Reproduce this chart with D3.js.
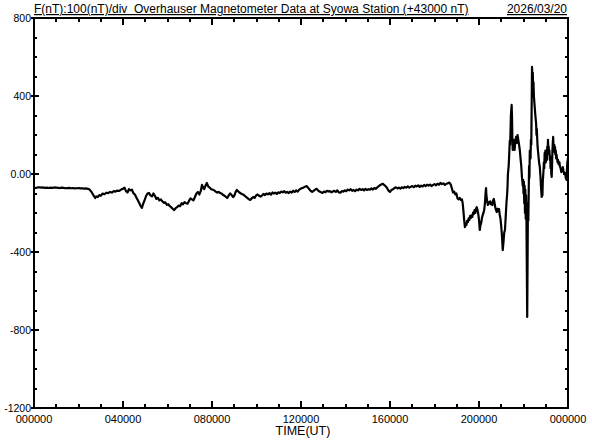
<!DOCTYPE html>
<html><head><meta charset="utf-8">
<script src="https://cdn.jsdelivr.net/npm/d3@7"></script>
<style>
html,body{margin:0;padding:0;background:#fff;}
svg{display:block;}
text{font-family:"Liberation Sans",Arial,sans-serif;fill:#000;white-space:pre;}
</style></head>
<body>
<script>
// ---- data ----
const titleText = "F(nT):100(nT)/div  Overhauser Magnetometer Data at Syowa Station (+43000 nT)";
const dateText = "2026/03/20";
const xAxisTitle = "TIME(UT)";
const xTickValues = [0, 240, 480, 720, 960, 1200, 1440];           // minutes
const xTickLabels = ["000000","040000","080000","120000","160000","200000","000000"];
const yTickValues = [800, 400, 0, -400, -800, -1200];
const yTickLabels = ["800","400","0.00","-400","-800","-1200"];
// F deviation from 43000 nT: [minute of day UT, nT]
const fSeries = [
[0,-72],[5,-71],[10,-69],[15,-68],[20,-70],[25,-69],[30,-71],[35,-70],[40,-72],[45,-70],
[50,-71],[55,-69],[60,-70],[65,-71],[70,-72],[75,-70],[80,-71],[85,-73],[90,-72],[95,-71],
[100,-73],[105,-72],[110,-74],[115,-73],[120,-72],[125,-74],[130,-73],[135,-75],[140,-74],[145,-76],
[150,-80],[155,-92],[160,-108],[165,-123],[168,-115],[172,-118],[176,-108],[180,-112],[185,-100],[190,-104],
[195,-96],[200,-98],[205,-92],[210,-95],[215,-88],[220,-90],[225,-85],[230,-87],[235,-80],[240,-76],
[244,-70],[248,-88],[252,-95],[256,-78],[260,-84],[264,-80],[268,-98],[272,-105],[276,-120],[280,-135],
[284,-150],[288,-165],[291,-174],[294,-155],[297,-140],[300,-125],[303,-110],[306,-100],[310,-97],[314,-110],
[318,-115],[322,-100],[326,-112],[330,-128],[334,-122],[338,-135],[342,-130],[346,-140],[350,-148],[354,-145],
[358,-158],[362,-155],[366,-165],[370,-170],[374,-178],[378,-185],[382,-175],[386,-170],[390,-162],[394,-165],
[398,-150],[402,-155],[406,-144],[410,-150],[414,-152],[418,-138],[422,-125],[426,-130],[430,-135],[434,-118],
[438,-100],[442,-92],[446,-105],[450,-85],[453,-56],[456,-70],[459,-78],[462,-62],[466,-46],[470,-65],
[474,-70],[478,-78],[482,-80],[486,-84],[490,-90],[494,-95],[498,-92],[502,-98],[506,-100],[510,-108],
[514,-112],[518,-118],[521,-123],[525,-110],[529,-100],[533,-108],[537,-118],[540,-112],[544,-90],[547,-82],
[550,-88],[554,-95],[558,-100],[562,-104],[566,-108],[570,-115],[575,-122],[580,-130],[583,-133],[587,-125],
[591,-118],[595,-122],[599,-110],[603,-105],[607,-112],[611,-116],[615,-110],[619,-102],[623,-108],[627,-100],
[631,-104],[635,-98],[639,-106],[643,-95],[647,-100],[651,-96],[655,-102],[659,-94],[663,-98],[667,-90],
[671,-94],[675,-88],[679,-96],[683,-92],[687,-98],[691,-90],[695,-95],[699,-86],[703,-92],[707,-84],
[711,-90],[715,-80],[719,-76],[723,-72],[727,-70],[731,-65],[735,-62],[739,-70],[743,-80],[747,-88],
[750,-92],[754,-86],[758,-80],[762,-76],[766,-84],[770,-90],[774,-94],[778,-97],[782,-90],[786,-94],
[790,-86],[794,-90],[798,-88],[802,-94],[806,-90],[810,-86],[814,-92],[818,-84],[822,-94],[826,-96],
[830,-88],[834,-90],[838,-84],[842,-88],[846,-80],[850,-84],[854,-78],[858,-86],[862,-82],[866,-88],
[870,-80],[874,-84],[878,-76],[882,-82],[886,-78],[890,-84],[894,-76],[898,-82],[902,-78],[906,-80],
[910,-74],[914,-80],[918,-72],[922,-76],[926,-68],[930,-62],[934,-56],[938,-52],[941,-50],[944,-56],
[948,-62],[952,-72],[956,-85],[960,-92],[964,-82],[968,-78],[972,-72],[976,-68],[980,-74],[984,-70],
[988,-75],[992,-68],[996,-72],[1000,-66],[1004,-70],[1008,-64],[1012,-70],[1016,-66],[1020,-62],[1024,-68],
[1028,-60],[1032,-64],[1036,-58],[1040,-66],[1044,-60],[1048,-64],[1052,-56],[1056,-62],[1060,-55],[1064,-60],
[1068,-54],[1072,-62],[1076,-56],[1080,-52],[1084,-58],[1088,-50],[1092,-55],[1096,-46],[1100,-52],[1104,-48],
[1108,-56],[1112,-50],[1116,-48],[1120,-44],[1124,-55],[1127,-75],[1130,-95],[1133,-90],[1136,-105],[1139,-100],
[1142,-125],[1145,-130],[1148,-122],[1151,-133],[1154,-130],[1156,-150],[1158,-190],[1160,-235],[1162,-272],[1164,-255],
[1166,-262],[1168,-240],[1170,-246],[1172,-228],[1174,-236],[1176,-215],[1178,-225],[1180,-212],[1182,-220],[1184,-198],
[1186,-205],[1188,-185],[1190,-200],[1192,-178],[1194,-170],[1196,-185],[1198,-205],[1200,-235],[1202,-287],[1204,-262],
[1206,-250],[1208,-225],[1210,-210],[1212,-200],[1214,-185],[1216,-150],[1218,-90],[1219,-72],[1220,-110],[1222,-140],
[1224,-159],[1226,-145],[1228,-150],[1230,-140],[1232,-155],[1234,-148],[1236,-160],[1238,-135],[1240,-128],[1242,-150],
[1244,-172],[1246,-185],[1248,-195],[1250,-178],[1252,-190],[1254,-180],[1256,-210],[1258,-230],[1260,-270],[1262,-320],
[1264,-390],[1266,-350],[1268,-300],[1270,-287],[1272,-220],[1274,-150],[1276,-100],[1277,-60],[1278,0],[1280,40],
[1281,80],[1283,170],[1284,150],[1285,220],[1286,300],[1288,354],[1289,300],[1290,180],[1291,123],[1293,175],
[1294,150],[1296,123],[1298,170],[1300,190],[1302,160],[1304,200],[1306,175],[1308,150],[1310,123],[1312,80],
[1314,40],[1316,-20],[1318,-60],[1319,-30],[1320,-100],[1321,-40],[1322,-150],[1323,-60],[1324,-200],[1325,-80],
[1326,-230],[1327,-110],[1328,-250],[1329,-492],[1330,-733],[1331,-450],[1332,-150],[1333,-240],[1334,-100],[1335,40],
[1336,-20],[1337,120],[1339,80],[1340,175],[1341,150],[1342,350],[1343,549],[1344,480],[1345,520],[1346,440],
[1347,470],[1348,400],[1350,350],[1352,300],[1354,260],[1355,200],[1356,230],[1357,180],[1358,140],[1360,100],
[1362,60],[1364,35],[1366,-20],[1367,-60],[1369,-118],[1370,-90],[1371,-110],[1372,-40],[1374,20],[1375,60],
[1376,30],[1377,108],[1378,80],[1379,120],[1380,60],[1382,90],[1383,72],[1384,140],[1385,110],[1386,175],
[1387,130],[1388,140],[1389,100],[1390,120],[1391,72],[1392,90],[1393,30],[1394,50],[1395,0],[1396,-15],
[1397,40],[1398,120],[1399,160],[1400,190],[1401,140],[1402,120],[1403,150],[1404,110],[1405,138],[1406,100],
[1407,120],[1408,80],[1409,100],[1410,87],[1412,60],[1413,72],[1415,50],[1417,60],[1418,40],[1420,30],
[1422,10],[1424,20],[1426,35],[1428,15],[1430,0],[1432,5],[1434,-20],[1436,-30],[1437,10],[1438,55],[1440,80]
];

// ---- layout ----
const W = 592, H = 440;
const L = 34, R = 568, T = 18, B = 408;
const x = d3.scaleLinear().domain([0, 1440]).range([L, R]);
const y = d3.scaleLinear().domain([-1200, 800]).range([B, T]);

const svg = d3.select("body").append("svg").attr("width", W).attr("height", H);
svg.append("rect").attr("width", W).attr("height", H).attr("fill", "#fff");

// trace
svg.append("path").datum(fSeries)
  .attr("fill", "none").attr("stroke", "#000").attr("stroke-width", 2.2)
  .attr("stroke-linejoin", "round")
  .attr("d", d3.line().x(d => x(d[0])).y(d => y(d[1])));

// frame
const g = svg.append("g").attr("stroke", "#000").attr("shape-rendering", "crispEdges");
g.append("rect").attr("x", L).attr("y", T).attr("width", R - L).attr("height", B - T)
  .attr("fill", "none").attr("stroke-width", 2);

// x ticks (inward, top & bottom)
d3.range(0, 1441, 60).forEach(t => {
  const major = t % 240 === 0;
  const len = major ? 7 : 4;
  g.append("line").attr("x1", x(t)).attr("x2", x(t)).attr("y1", B).attr("y2", B - len).attr("stroke-width", 2);
  g.append("line").attr("x1", x(t)).attr("x2", x(t)).attr("y1", T).attr("y2", T + len).attr("stroke-width", 2);
});
// y ticks (inward, left & right)
d3.range(-1200, 801, 100).forEach(v => {
  const major = v % 400 === 0;
  g.append("line").attr("x1", major ? L - 3 : L).attr("x2", L + (major ? 5 : 3))
    .attr("y1", y(v)).attr("y2", y(v)).attr("stroke-width", 2);
  g.append("line").attr("x1", R).attr("x2", R - (major ? 5 : 3))
    .attr("y1", y(v)).attr("y2", y(v)).attr("stroke-width", 2);
});

// y labels
yTickValues.forEach((v, i) => {
  svg.append("text").attr("x", L - 3).attr("y", y(v) + 4)
    .attr("text-anchor", "end").attr("font-size", 10.5).text(yTickLabels[i]);
});
// x labels
xTickValues.forEach((t, i) => {
  svg.append("text").attr("x", x(t)).attr("y", 423)
    .attr("text-anchor", "middle").attr("font-size", 11).text(xTickLabels[i]);
});
svg.append("text").attr("x", 303).attr("y", 435).attr("text-anchor", "middle")
  .attr("font-size", 12.5).text(xAxisTitle);

// title
svg.append("text").attr("x", 34).attr("y", 13).attr("font-size", 12)
  .attr("xml:space", "preserve")
  .attr("text-decoration", "underline").text(titleText);
svg.append("text").attr("x", 567).attr("y", 13).attr("font-size", 12)
  .attr("text-anchor", "end").attr("text-decoration", "underline").text(dateText);
</script>
</body></html>
